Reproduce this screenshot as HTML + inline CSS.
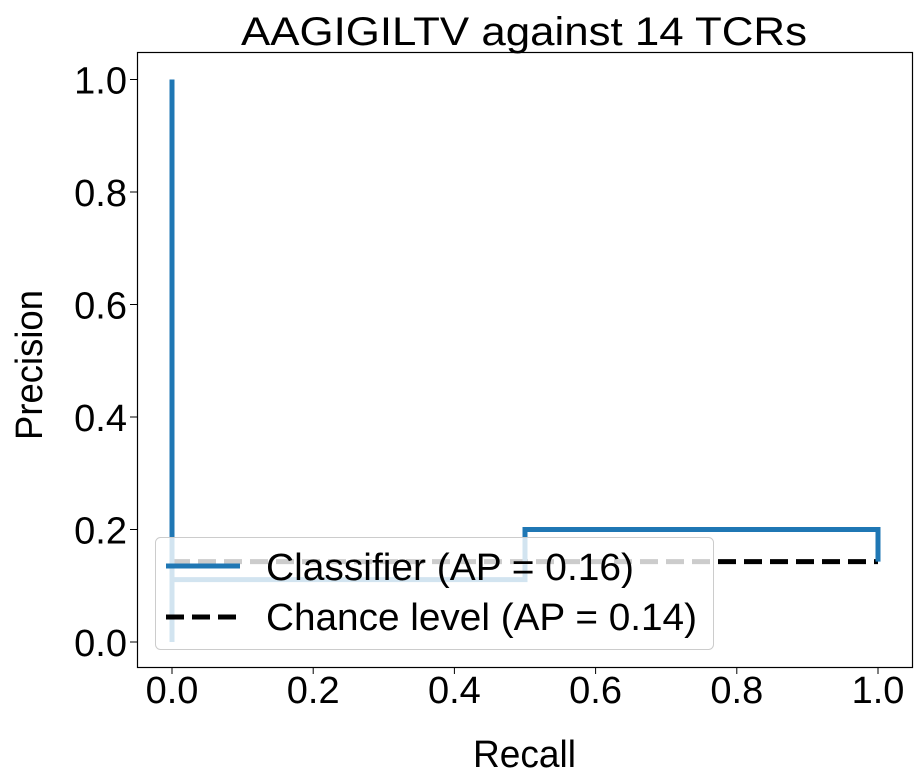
<!DOCTYPE html>
<html><head><meta charset="utf-8"><style>
body{margin:0;background:#fff}
svg{display:block;font-family:"Liberation Sans",sans-serif}
</style></head><body>
<svg width="921" height="783">
<g id="plot"></g>
</svg>
<script>
const recall=[0,0,0,0.5,0.5,1,1];
const precision=[1,0,0.111,0.111,0.2,0.2,0.143];
const chanceX=[0,1];
const chanceY=[0.143,0.143];
const ticks=[0,0.2,0.4,0.6,0.8,1.0];
const tickLabels=["0.0","0.2","0.4","0.6","0.8","1.0"];
const X=v=>172+v*706, Y=v=>642-v*562.5;
const NS="http://www.w3.org/2000/svg";
const g=document.getElementById('plot');
function mk(t,a,p){const e=document.createElementNS(NS,t);for(const k in a)e.setAttribute(k,a[k]);(p||g).appendChild(e);return e;}
const frame=mk('rect',{x:137.5,y:52.5,width:775,height:615,fill:'none',stroke:'#000','stroke-width':1.2});


ticks.forEach((t,i)=>{
 const a=mk('line',{x1:X(t),x2:X(t),y1:667,y2:674,stroke:'#000'});
 
 
 const tx=mk('text',{x:X(t),y:703,'font-size':38,'text-anchor':'middle'});tx.textContent=tickLabels[i];
 
 
 const b=mk('line',{x1:130,x2:137,y1:Y(t),y2:Y(t),stroke:'#000'});
 
 
 const ty=mk('text',{x:127,y:Y(t)+14,'font-size':38,'text-anchor':'end'});ty.textContent=tickLabels[i];
 
 
});
const cl=mk('polyline',{points:chanceX.map((v,i)=>X(v)+','+Y(chanceY[i])).join(' '),fill:'none',stroke:'#000','stroke-width':5,'stroke-dasharray':'18,8'});


const pl=mk('polyline',{points:recall.map((v,i)=>X(v)+','+Y(precision[i])).join(' '),fill:'none',stroke:'#1f77b4','stroke-width':5});


const lg=mk('g',{});


mk('rect',{x:155.5,y:537.5,width:558,height:112,rx:5,fill:'rgba(255,255,255,0.8)',stroke:'#ccc'},lg);
mk('line',{x1:166,x2:240,y1:566,y2:566,stroke:'#1f77b4','stroke-width':5},lg);
const l1=mk('text',{x:266,y:580,'font-size':38,textLength:368,lengthAdjust:'spacingAndGlyphs'},lg);l1.textContent='Classifier (AP = 0.16)';


mk('line',{x1:166,x2:240,y1:617,y2:617,stroke:'#000','stroke-width':5,'stroke-dasharray':'18,8'},lg);
const l2=mk('text',{x:266,y:630,'font-size':38,textLength:431,lengthAdjust:'spacingAndGlyphs'},lg);l2.textContent='Chance level (AP = 0.14)';


const tt=mk('text',{x:241,y:45,'font-size':40,textLength:566,lengthAdjust:'spacingAndGlyphs'});tt.textContent='AAGIGILTV against 14 TCRs';


const xl=mk('text',{x:473,y:767,'font-size':38,textLength:103,lengthAdjust:'spacingAndGlyphs'});xl.textContent='Recall';


const yl=mk('text',{x:0,y:0,'font-size':38,textLength:150,lengthAdjust:'spacingAndGlyphs',transform:'translate(42,440) rotate(-90)'});yl.textContent='Precision';


</script>
</body></html>
